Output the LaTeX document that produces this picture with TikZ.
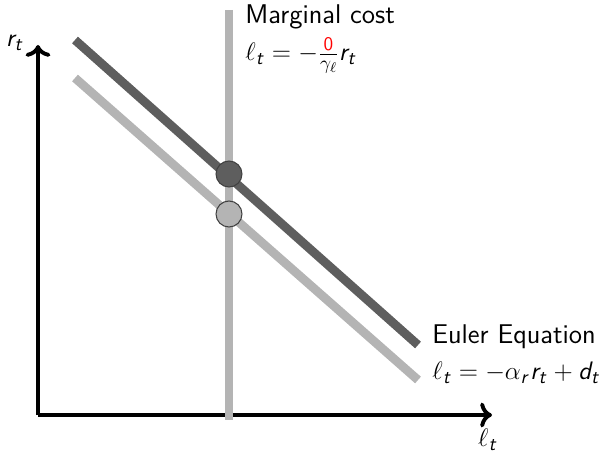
\documentclass[tikz,border=0pt]{standalone}
\renewcommand{\familydefault}{\sfdefault}
\DeclareSymbolFont{sfletters}{OT1}{cmss}{m}{sl}
\DeclareSymbolFont{operators}{OT1}{cmss}{m}{n}
\DeclareMathSymbol{r}{\mathalpha}{sfletters}{`r}
\DeclareMathSymbol{t}{\mathalpha}{sfletters}{`t}
\DeclareMathSymbol{d}{\mathalpha}{sfletters}{`d}
\usetikzlibrary{positioning,arrows.meta}
\definecolor{darkline}{HTML}{5E5E5E}
\definecolor{lightline}{HTML}{B4B4B4}
\newcommand{\plotfont}{\fontsize{15.4}{18.5}\selectfont}
\tikzset{
  axis/.style={line width=2.2pt, -{To[scale=1.05]}},
  curve/.style={line width=5pt},
  eqpoint/.style={circle, draw=black!75, line width=0.6pt, minimum size=0.52cm, inner sep=0pt},
  curvelabel/.style={anchor=west, font=\plotfont, inner sep=0pt}
}
\begin{document}
\begin{tikzpicture}[x=0.02cm,y=0.02cm]
        \useasboundingbox (0,0) rectangle (611,457);
        % axes
        \coordinate (origin) at (38,42);
        \coordinate (xend) at (492,42);
        \coordinate (yend) at (38,412);
        \draw[axis] (origin) -- (xend);
        \draw[axis] (origin) -- (yend);
        \node[font=\plotfont] (rlab) at (15,414) {$r_t$};
        \node[font=\plotfont] (llab) at (488,17) {$\ell_t$};
        % marginal cost (vertical)
        \coordinate (mctop) at (229,447);
        \coordinate (mcbot) at (229,37);
        \draw[curve, lightline] (mctop) -- (mcbot);
        % Euler equation, before and after
        \coordinate (eetop) at (75,417);
        \coordinate (eebot) at (418,112);
        \coordinate (eetopb) at (75,379);
        \coordinate (eebotb) at (418,77);
        \draw[curve, darkline] (eetop) -- (eebot);
        \draw[curve, lightline] (eetopb) -- (eebotb);
        % equilibria
        \node[eqpoint, fill=darkline] (eqdark) at (229,283) {};
        \node[eqpoint, fill=lightline] (eqlight) at (229,243) {};
        % labels
        \node[curvelabel] (mctext) at (245,440) {Marginal cost};
        \node[curvelabel, below=0.16cm of mctext.south west, anchor=north west] (mceq) {$\ell_t = -\frac{\textcolor{red}{0}}{\gamma_\ell} r_t$};
        \node[curvelabel] (eetext) at (432,120) {Euler Equation};
        \node[curvelabel, below=0.24cm of eetext.south west, anchor=north west] (eeeq) {$\ell_t = -\alpha_r r_t + d_t$};
\end{tikzpicture}
\end{document}
